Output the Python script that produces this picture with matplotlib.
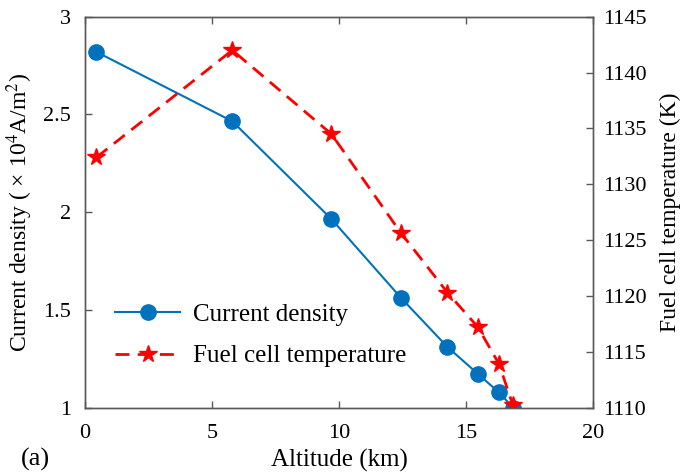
import matplotlib
matplotlib.use("Agg")
import matplotlib.pyplot as plt

plt.rcParams['font.family'] = ['Liberation Serif', 'DejaVu Serif']
plt.rcParams['mathtext.fontset'] = 'stix'

# data
altitude = [0.45, 5.8, 9.7, 12.45, 14.27, 15.47, 16.3, 16.85]
current_density = [2.82, 2.465, 1.965, 1.56, 1.31, 1.172, 1.077, 1.0]
cell_temp = [1132.4, 1142.0, 1134.5, 1125.6, 1120.3, 1117.2, 1113.9, 1110.2]

blue = '#0072BD'
red = '#FF0000'
spine_col = '0.35'

fig = plt.figure(figsize=(6.87, 4.75), dpi=100)
ax = fig.add_axes([0.1237, 0.1421, 0.7394, 0.8227])
ax2 = ax.twinx()

l1, = ax.plot(altitude, current_density, '-o', color=blue, lw=1.5,
              markersize=11, label='Current density')
l2, = ax2.plot(altitude, cell_temp, '--*', color=red, lw=2, dashes=(5, 3),
               markersize=13, label='Fuel cell temperature')

ax.set_xlim(0, 20)
ax.set_ylim(1, 3)
ax2.set_ylim(1110, 1145)
ax.set_xticks([0, 5, 10, 15, 20])
ax.set_yticks([1, 1.5, 2, 2.5, 3])
ax.set_yticklabels(['1', '1.5', '2', '2.5', '3'])
ax2.set_yticks(range(1110, 1146, 5))

for a in (ax, ax2):
    for s in a.spines.values():
        s.set_color(spine_col)
        s.set_linewidth(1.0)
ax.tick_params(direction='in', top=True, length=5, width=1, color=spine_col,
               labelsize=16, pad=10)
ax.tick_params(axis='x', pad=12)
ax2.tick_params(direction='in', length=5, width=1, color=spine_col,
                labelsize=16, pad=7)

ax.set_xlabel('Altitude (km)', fontsize=18, labelpad=4)
ax.set_ylabel('Current density ( × 10$^4$A/m$^2$)', fontsize=17, labelpad=6)
ax2.set_ylabel('Fuel cell temperature (K)', fontsize=17, labelpad=10)

ax2.legend([l1, l2], ['Current density', 'Fuel cell temperature'],
           loc='lower left', bbox_to_anchor=(0.015, 0.045), frameon=False,
           fontsize=18, handlelength=2.6, handletextpad=0.5, labelspacing=0.75)

fig.text(0.03, 0.02, '(a)', fontsize=19)

fig.savefig('out.png', dpi=100)
